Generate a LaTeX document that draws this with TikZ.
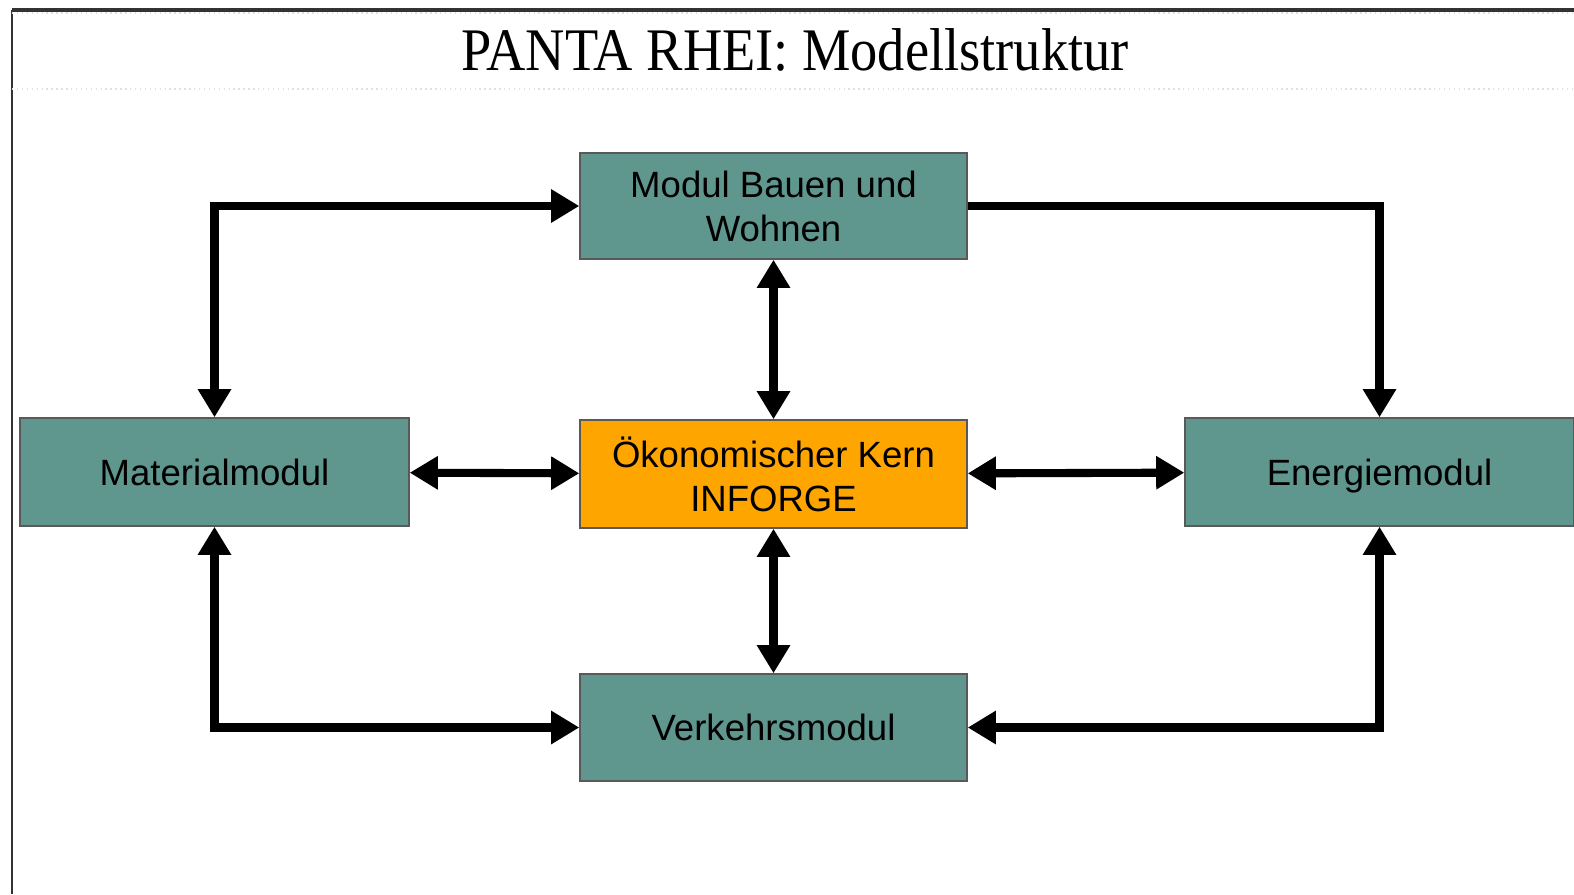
\documentclass[tikz,border=0pt]{standalone}
\usepackage{fontspec}
\setmainfont{Liberation Sans}
\newfontfamily\titlefont[FakeStretch=0.9]{Liberation Serif}
\usepackage{xcolor}
\usetikzlibrary{arrows.meta}
\definecolor{modulgruen}{HTML}{5F968E}
\definecolor{kernorange}{HTML}{FFA500}
\tikzset{
  modul/.style={draw=black!65, line width=0.4pt, fill=modulgruen, minimum width=3.87cm, minimum height=1.06cm, align=center, inner sep=0pt, font=\fontsize{10.4}{12.5}\selectfont},
  kern/.style={modul, fill=kernorange},
  fluss/.style={line width=2.3pt, -{Triangle[length=8pt,width=9pt]}},
  wechsel/.style={fluss, {Triangle[length=8pt,width=9pt]}-{Triangle[length=8pt,width=9pt]}}
}

\begin{document}
\begin{tikzpicture}
    \useasboundingbox (0,0) rectangle (15.74,8.94);

    % Rahmen und Titel
    \draw [line width=1pt, black!80] (0.12,8.84) -- (15.74,8.84);
    \draw [line width=0.8pt, black!80] (0.12,8.84) -- (0.12,0);
    \draw [black!12, densely dotted] (0.12,8.81) -- (15.74,8.81);
    \draw [black!12, densely dotted] (0.12,8.05) -- (15.74,8.05);
    \node (titel) at (7.95,8.44) {\titlefont\fontsize{17.2}{20}\selectfont PANTA RHEI: Modellstruktur};

    % Module
    \node [modul] (bauen) at (7.735,6.88) {Modul Bauen und\\Wohnen};
    \node [kern, minimum height=1.08cm] (kern) at (7.735,4.20) {Ökonomischer Kern\\INFORGE};
    \node [modul, minimum width=3.89cm, minimum height=1.08cm] (material) at (2.145,4.22) {Materialmodul};
    \node [modul, minimum width=3.89cm, minimum height=1.08cm, text depth=0pt] (energie) at (13.795,4.22) {Energiemodul};
    \node [modul, minimum height=1.07cm] (verkehr) at (7.735,1.665) {Verkehrsmodul};

    % Verbindungen
    \draw [wechsel] (bauen) -- (kern);
    \draw [wechsel] (kern) -- (verkehr);
    \draw [wechsel] (material) -- (kern);
    \draw [wechsel] (kern) -- (energie);
    \draw [wechsel] (material.north) |- (bauen.west);
    \draw [fluss] (bauen.east) -| (energie.north);
    \draw [wechsel] (material.south) |- (verkehr.west);
    \draw [wechsel] (energie.south) |- (verkehr.east);
\end{tikzpicture}
\end{document}
